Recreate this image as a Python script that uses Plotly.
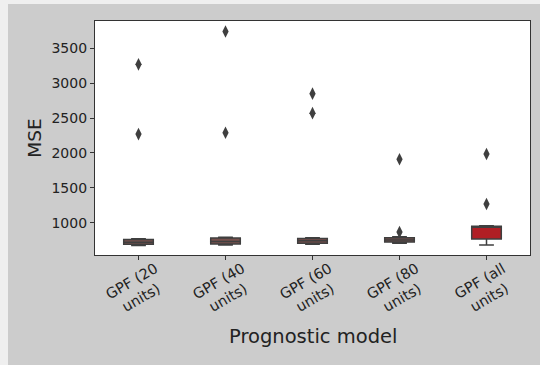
import plotly.graph_objects as go

categories = ["GPF (20<br>units)", "GPF (40<br>units)", "GPF (60<br>units)", "GPF (80<br>units)", "GPF (all<br>units)"]
lowerfence = [672, 680, 690, 705, 680]
q1 = [690, 695, 705, 722, 765]
median = [720, 730, 740, 752, 935]
q3 = [760, 780, 775, 785, 948]
upperfence = [770, 790, 785, 800, 958]
outliers = [[3270, 2270], [3740, 2290], [2850, 2570], [1910, 865], [1985, 1268]]
box_colors = ["#77504c", "#77504c", "#794e4b", "#77504c", "#b01e24"]
y_ticks = [1000, 1500, 2000, 2500, 3000, 3500]

fig = go.Figure()
for i, c in enumerate(categories):
    fig.add_trace(go.Box(
        x=[i], q1=[q1[i]], median=[median[i]], q3=[q3[i]],
        lowerfence=[lowerfence[i]], upperfence=[upperfence[i]],
        width=0.34, whiskerwidth=0.5,
        fillcolor=box_colors[i], line=dict(color="#3f3f3f", width=1.5),
        boxpoints=False, showlegend=False, hoverinfo="skip",
    ))
    fig.add_trace(go.Scatter(
        x=[i] * len(outliers[i]), y=outliers[i], mode="markers",
        marker=dict(symbol="diamond-tall", size=9, color="#3f3f3f"),
        showlegend=False, hoverinfo="skip",
    ))

annotations = [
    dict(text=c, x=i, xref="x", y=-0.148, yref="paper", xanchor="center", yanchor="middle",
         textangle=-30, showarrow=False, align="center", xshift=-2,
         font=dict(size=14.5, color="#222222", family="DejaVu Sans"))
    for i, c in enumerate(categories)
]
annotations.append(dict(text="Prognostic model", x=0.5, xref="paper", y=-0.35, yref="paper",
                        xanchor="center", yanchor="middle", showarrow=False,
                        font=dict(size=19.5, color="#222222", family="DejaVu Sans")))

fig.update_layout(
    width=540, height=365,
    margin=dict(l=95, r=10, t=21, b=110),
    paper_bgcolor="#cccccc", plot_bgcolor="white",
    font=dict(family="DejaVu Sans", size=14, color="#222222"),
    annotations=annotations,
    shapes=[
        dict(type="rect", xref="paper", yref="paper", x0=-0.23, x1=-0.2, y0=-0.5, y1=1.1,
             fillcolor="#efefef", line=dict(width=0), layer="below"),
        dict(type="rect", xref="paper", yref="paper", x0=-0.23, x1=1.1, y0=1.0726, y1=1.1,
             fillcolor="#efefef", line=dict(width=0), layer="below"),
    ],
)
fig.update_xaxes(
    range=[-0.5, 4.5], tickmode="array", tickvals=list(range(5)), showticklabels=False,
    ticks="outside", ticklen=4, tickcolor="#333333",
    showline=True, linecolor="#333333", linewidth=1.2, mirror=True,
    showgrid=False, zeroline=False, automargin=False,
)
fig.update_yaxes(
    range=[537, 3891], tickvals=y_ticks,
    ticks="outside", ticklen=4, tickcolor="#333333",
    showline=True, linecolor="#333333", linewidth=1.2, mirror=True,
    showgrid=False, zeroline=False,
    title=dict(text="MSE", font=dict(size=18.5), standoff=4),
    automargin=False,
)
fig.write_html("out.html")
